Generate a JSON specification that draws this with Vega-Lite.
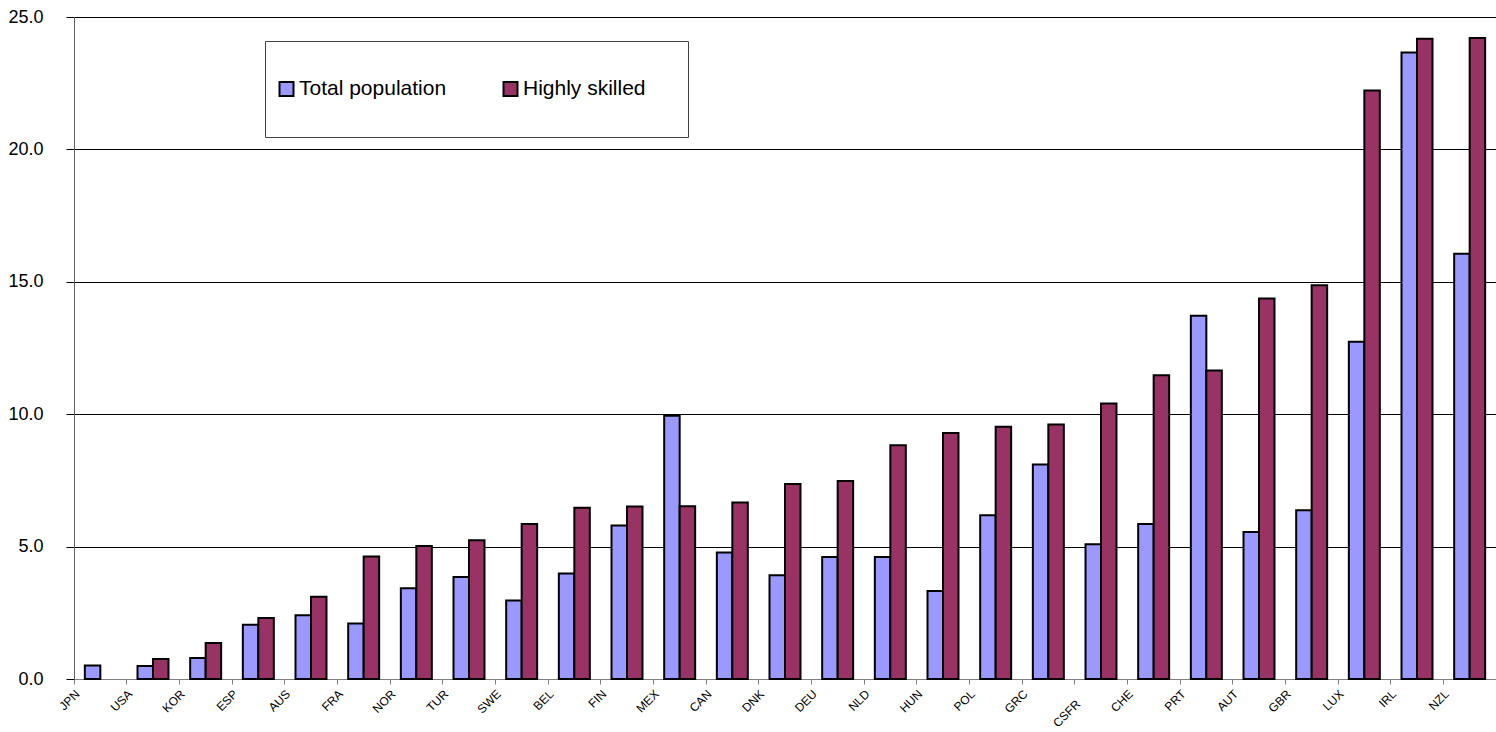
{
  "$schema": "https://vega.github.io/schema/vega-lite/v6.json",
  "width": 1422,
  "height": 662,
  "autosize": {"type": "none"},
  "padding": {"left": 74, "top": 17, "right": 0, "bottom": 53},
  "background": "white",
  "config": {"view": {"stroke": null}, "font": "Liberation Sans"},
  "data": {
    "values": [
      {"country": "JPN", "series": "Total population", "value": 0.51},
      {"country": "USA", "series": "Total population", "value": 0.49},
      {"country": "USA", "series": "Highly skilled", "value": 0.76},
      {"country": "KOR", "series": "Total population", "value": 0.79},
      {"country": "KOR", "series": "Highly skilled", "value": 1.36},
      {"country": "ESP", "series": "Total population", "value": 2.05},
      {"country": "ESP", "series": "Highly skilled", "value": 2.30},
      {"country": "AUS", "series": "Total population", "value": 2.41},
      {"country": "AUS", "series": "Highly skilled", "value": 3.11},
      {"country": "FRA", "series": "Total population", "value": 2.10},
      {"country": "FRA", "series": "Highly skilled", "value": 4.63},
      {"country": "NOR", "series": "Total population", "value": 3.43},
      {"country": "NOR", "series": "Highly skilled", "value": 5.02},
      {"country": "TUR", "series": "Total population", "value": 3.85},
      {"country": "TUR", "series": "Highly skilled", "value": 5.24},
      {"country": "SWE", "series": "Total population", "value": 2.96},
      {"country": "SWE", "series": "Highly skilled", "value": 5.85},
      {"country": "BEL", "series": "Total population", "value": 3.98},
      {"country": "BEL", "series": "Highly skilled", "value": 6.47},
      {"country": "FIN", "series": "Total population", "value": 5.80},
      {"country": "FIN", "series": "Highly skilled", "value": 6.51},
      {"country": "MEX", "series": "Total population", "value": 9.94},
      {"country": "MEX", "series": "Highly skilled", "value": 6.52},
      {"country": "CAN", "series": "Total population", "value": 4.78},
      {"country": "CAN", "series": "Highly skilled", "value": 6.67},
      {"country": "DNK", "series": "Total population", "value": 3.92},
      {"country": "DNK", "series": "Highly skilled", "value": 7.36},
      {"country": "DEU", "series": "Total population", "value": 4.61},
      {"country": "DEU", "series": "Highly skilled", "value": 7.48},
      {"country": "NLD", "series": "Total population", "value": 4.61},
      {"country": "NLD", "series": "Highly skilled", "value": 8.83},
      {"country": "HUN", "series": "Total population", "value": 3.32},
      {"country": "HUN", "series": "Highly skilled", "value": 9.29},
      {"country": "POL", "series": "Total population", "value": 6.18},
      {"country": "POL", "series": "Highly skilled", "value": 9.53},
      {"country": "GRC", "series": "Total population", "value": 8.10},
      {"country": "GRC", "series": "Highly skilled", "value": 9.61},
      {"country": "CSFR", "series": "Total population", "value": 5.09},
      {"country": "CSFR", "series": "Highly skilled", "value": 10.40},
      {"country": "CHE", "series": "Total population", "value": 5.85},
      {"country": "CHE", "series": "Highly skilled", "value": 11.47},
      {"country": "PRT", "series": "Total population", "value": 13.72},
      {"country": "PRT", "series": "Highly skilled", "value": 11.65},
      {"country": "AUT", "series": "Total population", "value": 5.55},
      {"country": "AUT", "series": "Highly skilled", "value": 14.37},
      {"country": "GBR", "series": "Total population", "value": 6.37},
      {"country": "GBR", "series": "Highly skilled", "value": 14.87},
      {"country": "LUX", "series": "Total population", "value": 12.74},
      {"country": "LUX", "series": "Highly skilled", "value": 22.22},
      {"country": "IRL", "series": "Total population", "value": 23.66},
      {"country": "IRL", "series": "Highly skilled", "value": 24.18},
      {"country": "NZL", "series": "Total population", "value": 16.06},
      {"country": "NZL", "series": "Highly skilled", "value": 24.21}
    ]
  },
  "mark": {"type": "bar", "stroke": "black", "strokeWidth": 2},
  "encoding": {
    "x": {
      "field": "country",
      "type": "nominal",
      "sort": null,
      "scale": {"paddingInner": 0, "paddingOuter": 0},
      "axis": {
        "title": null,
        "bandPosition": 0,
        "labelAngle": -45,
        "labelAlign": "right",
        "labelBaseline": "top",
        "labelFontSize": 12,
        "labelColor": "black",
        "labelOffset": -26.33,
        "labelPadding": {"expr": "datum.value === 'CSFR' ? 14 : 4"},
        "tickSize": 5,
        "tickColor": "#808080",
        "domainColor": "#808080",
        "labelOverlap": false
      }
    },
    "xOffset": {
      "field": "series",
      "type": "nominal",
      "sort": ["Total population", "Highly skilled"],
      "scale": {"paddingInner": 0, "paddingOuter": 0.7}
    },
    "y": {
      "field": "value",
      "type": "quantitative",
      "scale": {"domain": [0, 25], "nice": false},
      "axis": {
        "title": null,
        "values": [0, 5, 10, 15, 20, 25],
        "format": ".1f",
        "grid": true,
        "gridColor": "black",
        "gridWidth": 1,
        "tickSize": 8,
        "tickColor": "black",
        "domainColor": "#606060",
        "labelFontSize": 18,
        "labelPadding": 23,
        "labelColor": "black"
      }
    },
    "color": {
      "field": "series",
      "type": "nominal",
      "scale": {"domain": ["Total population", "Highly skilled"], "range": ["#9999FF", "#993366"]},
      "legend": {
        "title": " ",
        "titleOrient": "right",
        "titlePadding": 31,
        "orient": "none",
        "legendX": 191,
        "legendY": 24,
        "direction": "horizontal",
        "columns": 2,
        "columnPadding": 53,
        "padding": 11,
        "strokeColor": "#404040",
        "fillColor": "white",
        "symbolType": "square",
        "symbolSize": 196,
        "symbolStrokeColor": "black",
        "symbolStrokeWidth": 2,
        "symbolOpacity": 1,
        "labelFontSize": 21,
        "labelOffset": 2,
        "labelColor": "black",
        "clipHeight": 74
      }
    }
  }
}
